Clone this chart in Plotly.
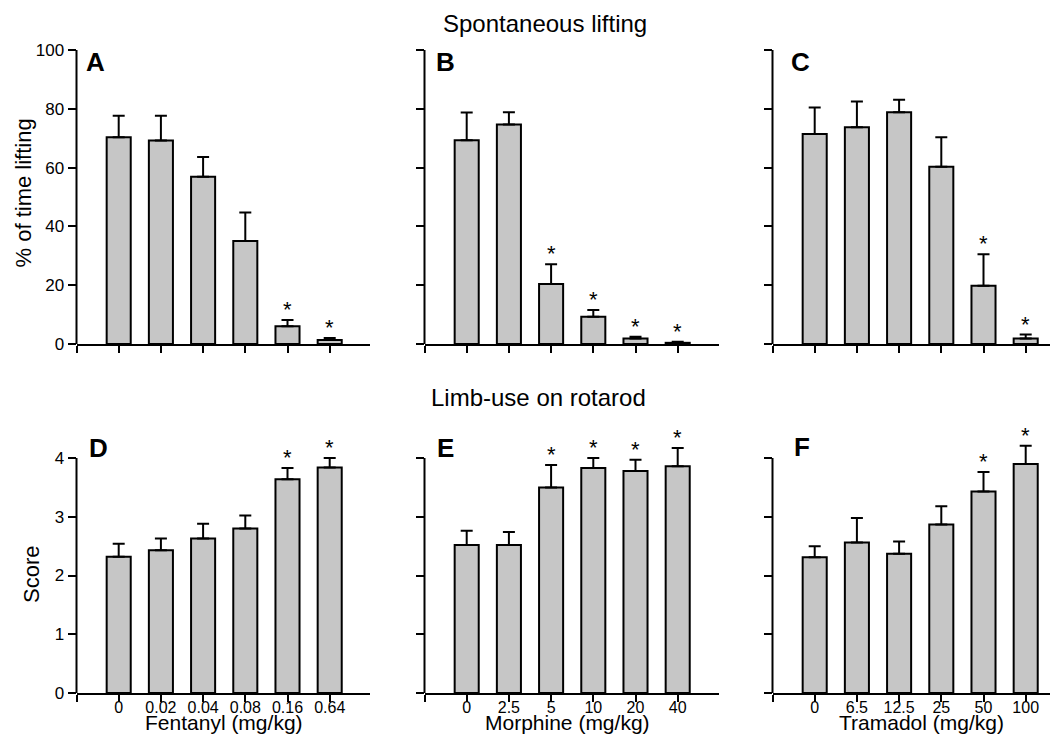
import plotly.graph_objects as go
import numpy as np

# ---------------- data ----------------
fentanyl_doses = ["0", "0.02", "0.04", "0.08", "0.16", "0.64"]
morphine_doses = ["0", "2.5", "5", "10", "20", "40"]
tramadol_doses = ["0", "6.5", "12.5", "25", "50", "100"]

# Spontaneous lifting (% of time lifting)
lift_fentanyl_mean = [70.3, 69.2, 56.9, 35.0, 6.0, 1.4]
lift_fentanyl_sem = [7.3, 8.4, 6.7, 9.7, 2.2, 0.6]
lift_morphine_mean = [69.3, 74.7, 20.4, 9.3, 1.9, 0.4]
lift_morphine_sem = [9.4, 4.1, 6.7, 2.3, 0.6, 0.4]
lift_tramadol_mean = [71.4, 73.7, 78.8, 60.3, 19.8, 1.9]
lift_tramadol_sem = [9.0, 8.8, 4.3, 10.0, 10.7, 1.3]

# Limb-use on rotarod (score)
rot_fentanyl_mean = [2.32, 2.43, 2.63, 2.80, 3.64, 3.84]
rot_fentanyl_sem = [0.22, 0.20, 0.25, 0.22, 0.19, 0.16]
rot_morphine_mean = [2.52, 2.52, 3.50, 3.83, 3.78, 3.86]
rot_morphine_sem = [0.24, 0.22, 0.38, 0.17, 0.19, 0.31]
rot_tramadol_mean = [2.31, 2.56, 2.37, 2.87, 3.43, 3.90]
rot_tramadol_sem = [0.19, 0.42, 0.21, 0.31, 0.33, 0.31]

# significance markers (1 = asterisk)
sig_A = [0, 0, 0, 0, 1, 1]
sig_B = [0, 0, 1, 1, 1, 1]
sig_C = [0, 0, 0, 0, 1, 1]
sig_D = [0, 0, 0, 0, 1, 1]
sig_E = [0, 0, 1, 1, 1, 1]
sig_F = [0, 0, 0, 0, 1, 1]

panel_letters = ["A", "B", "C", "D", "E", "F"]
row_titles = ["Spontaneous lifting", "Limb-use on rotarod"]
drug_titles = ["Fentanyl (mg/kg)", "Morphine (mg/kg)", "Tramadol (mg/kg)"]
y_titles = ["% of time lifting", "Score"]

# ---------------- layout helpers ----------------
OX, OY = 8, 8          # page body margin
WF, HF = 1042, 726     # figure size so the page fits the window
FONT = "Liberation Sans, Arial, Helvetica, sans-serif"
BAR_FILL = "#c6c6c6"


def fx(px):
    return (px - OX) / WF


def fy(py):
    return 1 - (py - OY) / HF


UNIT_PX = 42.2
# column geometry: (y-axis x position in window px, right end in window px)
cols_px = [(76.5, 370.0), (424.5, 719.0), (772.5, min(1058.0, OX + WF))]
# row geometry
rows_cfg = [
    dict(zero=344.0, top=50.0, ymax=100, dtick=20, head=0.0),
    dict(zero=693.0, top=458.0, ymax=4, dtick=1, head=0.4),
]

panels = [
    (lift_fentanyl_mean, lift_fentanyl_sem, sig_A, fentanyl_doses, 0, 0),
    (lift_morphine_mean, lift_morphine_sem, sig_B, morphine_doses, 0, 1),
    (lift_tramadol_mean, lift_tramadol_sem, sig_C, tramadol_doses, 0, 2),
    (rot_fentanyl_mean, rot_fentanyl_sem, sig_D, fentanyl_doses, 1, 0),
    (rot_morphine_mean, rot_morphine_sem, sig_E, morphine_doses, 1, 1),
    (rot_tramadol_mean, rot_tramadol_sem, sig_F, tramadol_doses, 1, 2),
]

fig = go.Figure()
annotations = []
shapes = []
layout_axes = {}

for k, (mean, sem, sig, doses, r, c) in enumerate(panels):
    idx = k + 1
    xname = "x" if idx == 1 else f"x{idx}"
    yname = "y" if idx == 1 else f"y{idx}"
    xkey = "xaxis" if idx == 1 else f"xaxis{idx}"
    ykey = "yaxis" if idx == 1 else f"yaxis{idx}"

    pos = np.arange(1, len(mean) + 1)
    fig.add_trace(go.Bar(
        x=pos, y=mean,
        xaxis=xname, yaxis=yname,
        width=0.57,
        marker=dict(color=BAR_FILL, line=dict(color="black", width=2)),
        error_y=dict(type="data", array=sem, arrayminus=[0] * len(sem),
                     symmetric=False, color="black", thickness=2, width=6),
        showlegend=False,
        hoverinfo="skip",
    ))

    x0p, x1p = cols_px[c]
    xmax = (x1p - x0p) / UNIT_PX
    cfg = rows_cfg[r]
    ppu = (cfg["zero"] - cfg["top"]) / cfg["ymax"]
    ytop_val = cfg["ymax"] + cfg["head"]
    ytop_px = cfg["zero"] - ytop_val * ppu

    layout_axes[xkey] = dict(
        domain=[fx(x0p), fx(x1p)], range=[0, xmax], anchor=yname,
        tickmode="array", tickvals=list(range(0, len(doses) + 1)),
        ticktext=[""] + doses, showticklabels=(r == 1),
        ticks="outside", ticklen=7, tickwidth=2, tickcolor="black",
        ticklabelstandoff=-8,
        showline=True, linecolor="black", linewidth=2,
        showgrid=False, zeroline=False, fixedrange=True,
        tickfont=dict(family=FONT, size=16, color="black"),
    )
    layout_axes[ykey] = dict(
        domain=[fy(cfg["zero"]), fy(ytop_px)], range=[0, ytop_val], anchor=xname,
        tickmode="array", tickvals=list(range(0, cfg["ymax"] + 1, cfg["dtick"])),
        showticklabels=(c == 0),
        ticks="outside", ticklen=8, tickwidth=2, tickcolor="black",
        showline=False,
        showgrid=False, zeroline=False, fixedrange=True,
        tickfont=dict(family=FONT, size=17, color="black"),
    )
    # y-axis line drawn only up to the top tick
    shapes.append(dict(
        type="line", xref=f"{xname} domain", yref=yname,
        x0=0, x1=0, y0=0, y1=cfg["ymax"],
        line=dict(color="black", width=2), layer="above",
    ))

    # significance asterisks
    for p, m, s, flag in zip(pos, mean, sem, sig):
        if flag:
            annotations.append(dict(
                x=p, y=m + s, xref=xname, yref=yname, text="*",
                showarrow=False, yanchor="bottom", xanchor="center",
                font=dict(family=FONT, size=22, color="black"), yshift=-4,
            ))

# panel letters
letter_px = [(95.5, 62), (445, 62), (800, 62), (98.5, 448), (445, 448), (801.5, 447)]
for letter, (lx, ly) in zip(panel_letters, letter_px):
    annotations.append(dict(
        x=fx(lx), y=fy(ly), xref="paper", yref="paper", text=f"<b>{letter}</b>",
        showarrow=False, xanchor="center", yanchor="middle",
        font=dict(family=FONT, size=26, color="black"),
    ))

# row titles
for t, (tx, ty) in zip(row_titles, [(544.5, 23), (538.8, 397)]):
    annotations.append(dict(
        x=fx(tx), y=fy(ty), xref="paper", yref="paper", text=t,
        showarrow=False, xanchor="center", yanchor="middle",
        font=dict(family=FONT, size=24, color="black"),
    ))

# x-axis titles (bottom row)
for t, tx in zip(drug_titles, [224, 567, 921.5]):
    annotations.append(dict(
        x=fx(tx), y=fy(722.5), xref="paper", yref="paper", text=t,
        showarrow=False, xanchor="center", yanchor="middle",
        font=dict(family=FONT, size=21, color="black"),
    ))

# y-axis titles
for t, (tx, ty) in zip(y_titles, [(22.5, 193), (31, 575)]):
    annotations.append(dict(
        x=fx(tx), y=fy(ty), xref="paper", yref="paper", text=t,
        showarrow=False, xanchor="center", yanchor="middle", textangle=-90,
        font=dict(family=FONT, size=22, color="black"),
    ))

fig.update_layout(
    width=WF, height=HF,
    margin=dict(l=0, r=0, t=0, b=0, autoexpand=False),
    paper_bgcolor="white", plot_bgcolor="white",
    annotations=annotations,
    shapes=shapes,
    **layout_axes,
)

fig.write_html("out.html")
